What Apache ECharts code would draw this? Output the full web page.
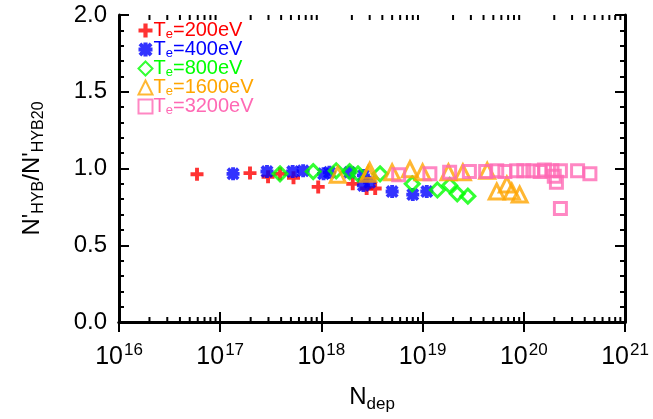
<!DOCTYPE html>
<html>
<head>
<meta charset="utf-8">
<script src="https://cdn.jsdelivr.net/npm/echarts@6/dist/echarts.min.js"></script>
<style>
  html, body { margin: 0; padding: 0; background: #fff; }
  #chart { width: 653px; height: 419px; }
</style>
</head>
<body>
<div id="chart"></div>
<script>
// data: N_dep vs N'_HYB / N'_HYB20
const x200 = [5.9e16, 1.97e17, 2.97e17, 3.9e17, 5.3e17, 9.3e17, 2.04e18, 2.8e18, 3.4e18];
const y200 = [0.963, 0.97, 0.946, 0.965, 0.94, 0.88, 0.9, 0.87, 0.87];

const x400 = [1.34e17, 2.9e17, 5.2e17, 6.6e17, 1.05e18, 1.2e18, 1.9e18, 2.6e18, 2.6e18, 3.0e18, 5.0e18, 8.0e18, 1.1e19];
const y400 = [0.965, 0.98, 0.98, 0.985, 0.965, 0.975, 0.975, 0.89, 0.955, 0.91, 0.85, 0.83, 0.85];

const x800 = [3.9e17, 8.3e17, 1.4e18, 1.9e18, 2.3e18, 3.8e18, 7.9e18, 1.4e19, 1.85e19, 2.2e19, 2.8e19];
const y800 = [0.965, 0.98, 0.985, 0.98, 0.965, 0.965, 0.9, 0.86, 0.89, 0.835, 0.82];

const x1600 = [1.45e18, 2.9e18, 3.0e18, 5.0e18, 7.5e18, 1.0e19, 1.8e19, 2.5e19, 4.35e19, 5.4e19, 6.8e19, 7.6e19, 9.1e19];
const y1600 = [0.96, 0.965, 0.985, 0.975, 0.995, 0.975, 0.975, 0.975, 0.985, 0.85, 0.895, 0.85, 0.83];

const x3200 = [5.8e18, 1.18e19, 1.85e19, 2.9e19, 4.2e19, 5.4e19, 6.5e19, 8.5e19, 1.0e20, 1.23e20, 1.45e20, 1.6e20, 1.9e20, 2.0e20, 2.1e20, 2.3e20, 2.3e20, 3.4e20, 4.5e20];
const y3200 = [0.96, 0.965, 0.975, 0.98, 0.98, 0.985, 0.98, 0.985, 0.985, 0.985, 0.98, 0.99, 0.985, 0.95, 0.91, 0.985, 0.74, 0.985, 0.965];

const temps = ['200', '400', '800', '1600', '3200'];
const colors = ['#ff0000', '#0000ff', '#00ff00', '#ffa500', '#ff69b4'];

const FONT = 'Liberation Sans';

const plusPath = 'path://M3.5,0H6.5V3.5H10V6.5H6.5V10H3.5V6.5H0V3.5H3.5Z';
const starPath = 'path://M3.5,0H6.5V10H3.5Z M0,3.5H10V6.5H0Z M2,0L10,8L8,10L0,2Z M8,0L10,2L2,10L0,8Z';

function pairs(xs, ys) {
    return xs.map((x, i) => [x, ys[i]]);
}

// minor tick positions of the log axis (2..9 in each decade)
const minorVals = [];
for (let d = 16; d < 21; d++) {
    for (let k = 2; k <= 9; k++) minorVals.push([k * Math.pow(10, d), 0]);
}

const chart = echarts.init(document.getElementById('chart'), null, { renderer: 'canvas' });

const hollow = (c) => ({ color: 'none', borderColor: c, borderWidth: 3 });

const series = [
    { data: pairs(x200, y200), symbol: plusPath, symbolSize: 13, itemStyle: { color: colors[0] } },
    { data: pairs(x400, y400), symbol: starPath, symbolSize: 13, itemStyle: { color: colors[1] } },
    { data: pairs(x800, y800), symbol: 'diamond', symbolSize: 14, itemStyle: hollow(colors[2]) },
    { data: pairs(x1600, y1600), symbol: 'triangle', symbolSize: 15, itemStyle: hollow(colors[3]) },
    { data: pairs(x3200, y3200), symbol: 'rect', symbolSize: 12, itemStyle: hollow(colors[4]) }
].map((s, i) => Object.assign({
    type: 'scatter',
    name: temps[i],
    xAxisIndex: 0,
    yAxisIndex: 0,
    animation: false
}, s));

series.push({
    type: 'custom',
    name: 'minor',
    xAxisIndex: 0,
    yAxisIndex: 0,
    silent: true,
    clip: false,
    data: minorVals,
    renderItem: function (params, api) {
        const b = api.coord([api.value(0), 0]);
        const t = api.coord([api.value(0), 2]);
        const st = { stroke: '#000', lineWidth: 2 };
        return {
            type: 'group',
            children: [
                { type: 'line', shape: { x1: b[0], y1: b[1], x2: b[0], y2: b[1] - 5 }, style: st },
                { type: 'line', shape: { x1: t[0], y1: t[1], x2: t[0], y2: t[1] + 5 }, style: st }
            ]
        };
    }
});

const axisLine = { show: true, lineStyle: { color: '#000', width: 3 } };
const majorTick = { inside: true, length: 10, lineStyle: { width: 2, color: '#000' } };

const option = {
    backgroundColor: '#fff',
    animation: false,
    grid: { left: 119, right: 28, top: 15, bottom: 97 },
    legend: {
        orient: 'vertical',
        left: 131,
        top: 15,
        itemGap: -2,
        itemWidth: 14,
        itemHeight: 14,
        selectedMode: false,
        data: temps.map((t, i) => ({ name: t, textStyle: { color: colors[i] } })),
        formatter: (name) => '{t|T}{s|e}{t|=' + name + 'eV}',
        textStyle: {
            fontFamily: FONT,
            padding: [0, 0, 0, -4],
            rich: {
                t: { fontSize: 20, fontFamily: FONT, lineHeight: 19 },
                s: { fontSize: 13, fontFamily: FONT, lineHeight: 11, padding: [8, 0, 0, 0] }
            }
        }
    },
    xAxis: [{
        type: 'log',
        logBase: 10,
        min: 1e16,
        max: 1e21,
        position: 'bottom',
        axisLine: axisLine,
        axisTick: majorTick,
        minorTick: { show: false },
        splitLine: { show: false },
        axisLabel: {
            margin: 20,
            formatter: (v) => '{b|10}{sup|' + Math.round(Math.log10(v)) + '}',
            rich: {
                b: { fontSize: 25, fontFamily: FONT, color: '#000' },
                sup: { fontSize: 17, fontFamily: FONT, color: '#000', padding: [0, 0, 13, 1] }
            }
        },
        name: '{n|N}{s|dep}',
        nameLocation: 'middle',
        nameGap: 60,
        nameTextStyle: {
            rich: {
                n: { fontSize: 24, fontFamily: FONT, color: '#000' },
                s: { fontSize: 17, fontFamily: FONT, color: '#000', padding: [14, 0, 0, 0] }
            }
        }
    }, {
        type: 'log',
        logBase: 10,
        min: 1e16,
        max: 1e21,
        position: 'top',
        axisLine: axisLine,
        axisTick: majorTick,
        minorTick: { show: false },
        splitLine: { show: false },
        axisLabel: { show: false }
    }],
    yAxis: [{
        type: 'value',
        min: 0,
        max: 2,
        interval: 0.5,
        position: 'left',
        axisLine: axisLine,
        axisTick: majorTick,
        minorTick: { show: true, splitNumber: 5, length: 5, lineStyle: { width: 2, color: '#000' } },
        splitLine: { show: false },
        axisLabel: {
            margin: 12,
            fontSize: 24,
            fontFamily: FONT,
            color: '#000',
            formatter: (v) => v.toFixed(1)
        },
        name: "{n|N'}{s|HYB}{n|/N'}{s|HYB20}",
        nameLocation: 'middle',
        nameRotate: 90,
        nameGap: 72,
        nameTextStyle: {
            rich: {
                n: { fontSize: 24, fontFamily: FONT, color: '#000' },
                s: { fontSize: 16, fontFamily: FONT, color: '#000', padding: [14, 0, 0, 0] }
            }
        }
    }, {
        type: 'value',
        min: 0,
        max: 2,
        interval: 0.5,
        position: 'right',
        axisLine: axisLine,
        axisTick: majorTick,
        minorTick: { show: true, splitNumber: 5, length: 5, lineStyle: { width: 2, color: '#000' } },
        splitLine: { show: false },
        axisLabel: { show: false }
    }],
    series: series
};

chart.setOption(option);
</script>
</body>
</html>
